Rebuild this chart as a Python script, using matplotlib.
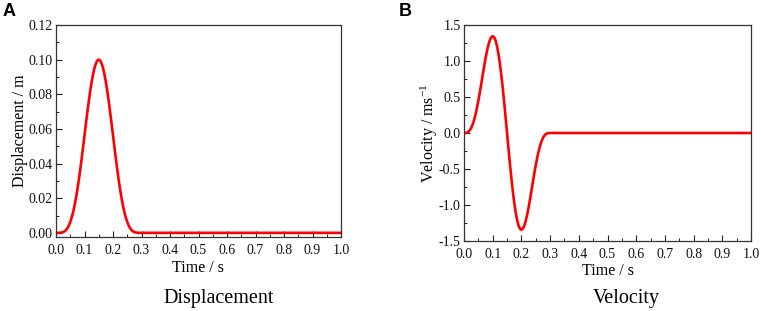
import matplotlib
matplotlib.use("Agg")
import matplotlib.pyplot as plt
from matplotlib.ticker import MultipleLocator

plt.rcParams["mathtext.fontset"] = "custom"
plt.rcParams["mathtext.rm"] = "Liberation Serif"
plt.rcParams["mathtext.it"] = "Liberation Serif:italic"
plt.rcParams["mathtext.default"] = "regular"

# Time samples (s): 0.005 s grid up to 0.30 s, then the flat tail to 1.0 s
time = [round(0.005 * i, 3) for i in range(61)] + [1.0]

# Displacement (m)
displacement = [0.0000, 0.0000, 0.0000, 0.0001, 0.0002, 0.0004, 0.0009, 0.0016,
                0.0027, 0.0042, 0.0063, 0.0088, 0.0119, 0.0157, 0.0200, 0.0250,
                0.0305, 0.0365, 0.0428, 0.0495, 0.0563, 0.0630, 0.0697, 0.0760,
                0.0818, 0.0871, 0.0915, 0.0952, 0.0978, 0.0995, 0.1000,
                0.0995, 0.0978, 0.0952, 0.0915, 0.0871, 0.0818, 0.0760, 0.0697,
                0.0630, 0.0563, 0.0495, 0.0428, 0.0365, 0.0305, 0.0250, 0.0200,
                0.0157, 0.0119, 0.0088, 0.0063, 0.0042, 0.0027, 0.0016, 0.0009,
                0.0004, 0.0002, 0.0001, 0.0000, 0.0000, 0.0000,
                0.0000]

# Velocity (m/s)
velocity = [0.0000, 0.0006, 0.0047, 0.0157, 0.0364, 0.0693, 0.1162, 0.1779,
            0.2544, 0.3452, 0.4482, 0.5610, 0.6802, 0.8019, 0.9216, 1.0350,
            1.1368, 1.2229, 1.2884, 1.3301, 1.3447, 1.3295, 1.2834, 1.2072,
            1.1004, 0.9657, 0.8056, 0.6240, 0.4256, 0.2158, 0.0000,
            -0.2158, -0.4256, -0.6240, -0.8056, -0.9657, -1.1004, -1.2072,
            -1.2834, -1.3295, -1.3447, -1.3301, -1.2884, -1.2229, -1.1368,
            -1.0350, -0.9216, -0.8019, -0.6802, -0.5610, -0.4482, -0.3452,
            -0.2544, -0.1779, -0.1162, -0.0693, -0.0364, -0.0157, -0.0047,
            -0.0006, 0.0000,
            0.0000]

serif = "Liberation Serif"
fig = plt.figure(figsize=(7.61, 3.11), dpi=100)
W, H = 761, 311

def ax_rect(l, r, t, b):
    return [l / W, 1 - b / H, (r - l) / W, (b - t) / H]

axA = fig.add_axes(ax_rect(56, 341, 25, 237))
axB = fig.add_axes(ax_rect(464, 751, 25, 241))

red = "#ff0000"
axA.plot(time, displacement, color=red, lw=1.9, solid_joinstyle="round")
axB.plot(time, velocity, color=red, lw=1.9, solid_joinstyle="round")

axA.set_xlim(0, 1.0)
axA.set_ylim(-0.0024, 0.12)
axA.xaxis.set_major_locator(MultipleLocator(0.1))
axA.xaxis.set_minor_locator(MultipleLocator(0.05))
axA.yaxis.set_major_locator(MultipleLocator(0.02))
axA.yaxis.set_minor_locator(MultipleLocator(0.01))
axA.yaxis.set_major_formatter(plt.FormatStrFormatter("%.2f"))

axB.set_xlim(0, 1.0)
axB.set_ylim(-1.5, 1.5)
axB.xaxis.set_major_locator(MultipleLocator(0.1))
axB.xaxis.set_minor_locator(MultipleLocator(0.05))
axB.yaxis.set_major_locator(MultipleLocator(0.5))
axB.yaxis.set_minor_locator(MultipleLocator(0.25))
axB.yaxis.set_major_formatter(plt.FormatStrFormatter("%.1f"))

for ax in (axA, axB):
    ax.xaxis.set_major_formatter(plt.FormatStrFormatter("%.1f"))
    for s in ax.spines.values():
        s.set_linewidth(0.9)
        s.set_color("#333333")
    ax.tick_params(which="major", direction="in", length=4, width=0.8,
                   top=False, right=False, labelsize=10, colors="#222222")
    ax.tick_params(which="minor", direction="in", length=2.2, width=0.7,
                   top=False, right=False, colors="#222222")
    ax.tick_params(axis="x", which="major", pad=5)
    ax.tick_params(axis="y", which="major", pad=2.5)
    for lbl in ax.get_xticklabels() + ax.get_yticklabels():
        lbl.set_fontfamily(serif)
        lbl.set_color("#111111")

axA.set_xlabel("Time / s", fontfamily=serif, fontsize=11.5, labelpad=2.5)
axA.set_ylabel("Displacement / m", fontfamily=serif, fontsize=11.5, labelpad=0.5)
axB.set_xlabel("Time / s", fontfamily=serif, fontsize=11.5, labelpad=1.5)
axB.set_ylabel("Velocity / ms$^{-1}$", fontfamily=serif, fontsize=11.5, labelpad=-1)

fig.text(219 / W, 1 - 298 / H, "Displacement", fontfamily=serif, fontsize=14.5,
         ha="center", va="center")
fig.text(626 / W, 1 - 298 / H, "Velocity", fontfamily=serif, fontsize=14.5,
         ha="center", va="center")
fig.text(3 / W, 1 - 11.5 / H, "A", fontfamily="Liberation Sans", fontweight="bold",
         fontsize=13, ha="left", va="center")
fig.text(399 / W, 1 - 11.5 / H, "B", fontfamily="Liberation Sans", fontweight="bold",
         fontsize=13, ha="left", va="center")

fig.save = None
fig.savefig("out.png", dpi=100)
